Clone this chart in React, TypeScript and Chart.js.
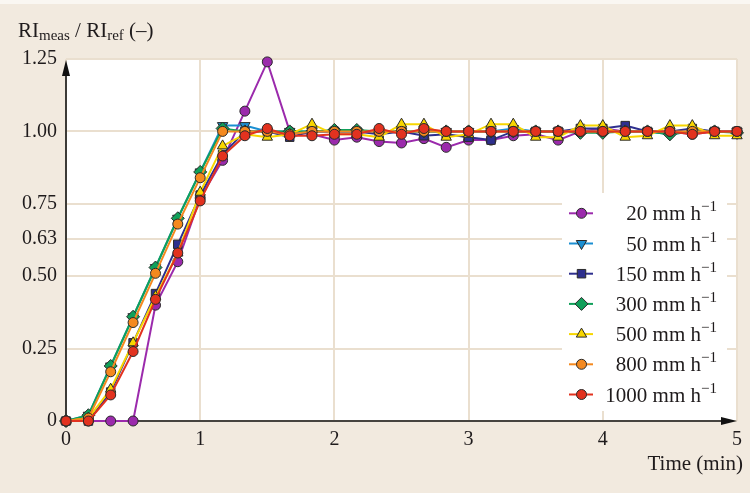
import React, { useEffect, useRef } from "react";
import { Chart, registerables } from "chart.js";

Chart.register(...registerables);

// ---- data ----
const TIME = [0, 0.167, 0.333, 0.5, 0.667, 0.833, 1, 1.167, 1.333, 1.5, 1.667, 1.833, 2, 2.167, 2.333, 2.5, 2.667, 2.833, 3, 3.167, 3.333, 3.5, 3.667, 3.833, 4, 4.167, 4.333, 4.5, 4.667, 4.833, 5];

const R20 = [0, 0, 0, 0, 0.40, 0.55, 0.77, 0.90, 1.07, 1.24, 1.0, 0.99, 0.97, 0.98, 0.965, 0.96, 0.975, 0.945, 0.97, 0.97, 0.985, 0.99, 0.97, 1.0, 1.01, 1.0, 1.0, 1.0, 0.99, 1.0, 1.0];
const R50 = [0, 0.02, 0.19, 0.36, 0.53, 0.70, 0.86, 1.02, 1.02, 1.0, 1.0, 1.0, 1.0, 1.0, 1.0, 1.0, 1.0, 1.0, 1.0, 1.0, 1.01, 1.0, 1.0, 1.0, 1.0, 1.0, 1.0, 0.99, 1.0, 1.0, 1.0];
const R150 = [0, 0, 0.10, 0.27, 0.44, 0.61, 0.78, 0.92, 1.0, 1.0, 0.98, 1.0, 1.0, 1.0, 0.99, 1.0, 0.985, 0.99, 0.98, 0.97, 1.0, 1.0, 1.0, 1.01, 1.01, 1.02, 1.0, 1.0, 1.01, 1.0, 1.0];
const R300 = [0, 0.02, 0.19, 0.36, 0.53, 0.70, 0.86, 1.01, 1.0, 1.0, 1.0, 1.0, 1.005, 1.005, 1.0, 1.0, 1.0, 1.0, 1.0, 1.0, 1.0, 1.0, 1.0, 0.995, 0.995, 1.0, 1.0, 0.99, 1.0, 1.0, 0.995];
const R500 = [0, 0.01, 0.11, 0.27, 0.43, 0.58, 0.79, 0.95, 0.99, 0.98, 0.99, 1.025, 0.99, 0.99, 0.98, 1.025, 1.025, 0.98, 0.99, 1.025, 1.025, 0.98, 0.98, 1.02, 1.02, 0.98, 0.985, 1.02, 1.02, 0.985, 0.985];
const R800 = [0, 0.01, 0.17, 0.34, 0.51, 0.68, 0.84, 1.0, 1.0, 1.0, 0.99, 1.0, 1.0, 1.0, 1.0, 1.0, 1.0, 1.0, 1.0, 1.0, 1.0, 1.0, 1.0, 1.0, 1.0, 1.0, 1.0, 1.0, 1.0, 1.0, 1.0];
const R1000 = [0, 0, 0.09, 0.24, 0.42, 0.58, 0.76, 0.915, 0.985, 1.01, 0.985, 0.985, 0.99, 0.99, 1.01, 0.99, 1.01, 1.0, 1.0, 1.0, 1.0, 1.0, 1.0, 1.0, 1.0, 1.0, 1.0, 1.0, 0.99, 1.0, 1.0];

const SERIES_LABELS = ["20 mm h", "50 mm h", "150 mm h", "300 mm h", "500 mm h", "800 mm h", "1000 mm h"];
const Y_TICKS = [0, 0.25, 0.5, 0.63, 0.75, 1.0, 1.25];
const X_TICKS = [0, 1, 2, 3, 4, 5];

const SERIES_VALUES = [R20, R50, R150, R300, R500, R800, R1000];
const COLORS = ["#9b2aac", "#1b8fd2", "#2e2f8e", "#10a05a", "#f7d600", "#f4891f", "#e2321f"];
const STYLES = ["circle", "triangle", "rect", "rectRot", "triangle", "circle", "circle"];
const ROTS = [0, 180, 0, 0, 0, 0, 0];
const RADII = [5, 6, 6, 6.5, 6, 5, 5];

const FONT = "'Liberation Serif', 'Times New Roman', serif";
const TEXT = "#1f1b1c";
const BG = "#f2eadf";
const GRID = "#eadfcf";

function drawMarker(ctx: CanvasRenderingContext2D, style: string, rot: number, x: number, y: number, r: number, fill: string) {
  ctx.save();
  ctx.translate(x, y);
  ctx.rotate((rot * Math.PI) / 180);
  ctx.beginPath();
  if (style === "circle") {
    ctx.arc(0, 0, r, 0, Math.PI * 2);
  } else if (style === "rect") {
    const s = r * Math.SQRT1_2;
    ctx.rect(-s, -s, 2 * s, 2 * s);
  } else if (style === "rectRot") {
    ctx.moveTo(0, -r);
    ctx.lineTo(r, 0);
    ctx.lineTo(0, r);
    ctx.lineTo(-r, 0);
    ctx.closePath();
  } else {
    ctx.moveTo(0, -r);
    ctx.lineTo(r * 0.866, r * 0.5);
    ctx.lineTo(-r * 0.866, r * 0.5);
    ctx.closePath();
  }
  ctx.fillStyle = fill;
  ctx.fill();
  ctx.lineWidth = 1;
  ctx.strokeStyle = "#2a2a2a";
  ctx.stroke();
  ctx.restore();
}

const decorPlugin = {
  id: "decor",
  beforeDraw(chart: any) {
    const { ctx, chartArea: a, width, height } = chart;
    ctx.save();
    ctx.fillStyle = BG;
    ctx.fillRect(0, 0, width, height);
    ctx.fillStyle = "#faf7f2";
    ctx.fillRect(0, 0, width, 4);
    ctx.fillStyle = "#ffffff";
    ctx.fillRect(a.left, a.top, a.right - a.left, a.bottom - a.top);
    ctx.restore();
  },
  beforeDatasetsDraw(chart: any) {
    const { ctx, chartArea: a } = chart;
    ctx.save();
    ctx.strokeStyle = "#111";
    ctx.fillStyle = "#111";
    ctx.lineWidth = 1.6;
    // y axis
    ctx.beginPath();
    ctx.moveTo(a.left, a.bottom);
    ctx.lineTo(a.left, a.top + 10);
    ctx.stroke();
    ctx.beginPath();
    ctx.moveTo(a.left, a.top + 1);
    ctx.lineTo(a.left - 4, a.top + 17);
    ctx.lineTo(a.left + 4, a.top + 17);
    ctx.closePath();
    ctx.fill();
    // x axis
    ctx.beginPath();
    ctx.moveTo(a.left, a.bottom);
    ctx.lineTo(a.right - 10, a.bottom);
    ctx.stroke();
    ctx.beginPath();
    ctx.moveTo(a.right, a.bottom);
    ctx.lineTo(a.right - 16, a.bottom - 4);
    ctx.lineTo(a.right - 16, a.bottom + 4);
    ctx.closePath();
    ctx.fill();
    ctx.restore();
  },
  afterDraw(chart: any) {
    const { ctx } = chart;
    ctx.save();
    // legend box
    const bx = 562, by = 193, bw = 165, bh = 218;
    ctx.fillStyle = "#ffffff";
    ctx.fillRect(bx, by, bw, bh);
    const right = 717;
    SERIES_LABELS.forEach((lab, i) => {
      const y = 213.3 + i * 30.2;
      ctx.strokeStyle = COLORS[i];
      ctx.lineWidth = 2;
      ctx.beginPath();
      ctx.moveTo(569, y);
      ctx.lineTo(593, y);
      ctx.stroke();
      drawMarker(ctx, STYLES[i], ROTS[i], 581.5, y, RADII[i], COLORS[i]);
      ctx.fillStyle = TEXT;
      ctx.font = `15px ${FONT}`;
      const sup = "\u22121";
      const sw = ctx.measureText(sup).width;
      ctx.textAlign = "left";
      ctx.textBaseline = "alphabetic";
      ctx.fillText(sup, right - sw, y - 2);
      ctx.font = `21px ${FONT}`;
      ctx.textAlign = "right";
      ctx.fillText(lab, right - sw, y + 7);
    });
    // y title
    ctx.fillStyle = TEXT;
    ctx.textAlign = "left";
    ctx.textBaseline = "alphabetic";
    let x = 18;
    const parts: [string, number, number][] = [
      ["RI", 21, 37],
      ["meas", 15, 40],
      [" / RI", 21, 37],
      ["ref", 15, 40],
      [" (\u2013)", 21, 37],
    ];
    parts.forEach(([t, s, yb]) => {
      ctx.font = `${s}px ${FONT}`;
      ctx.fillText(t, x, yb);
      x += ctx.measureText(t).width;
    });
    // x title
    ctx.font = `21px ${FONT}`;
    ctx.textAlign = "right";
    ctx.fillText("Time (min)", 743, 470);
    ctx.restore();
  },
};

export default function App() {
  const ref = useRef<HTMLCanvasElement | null>(null);
  useEffect(() => {
    document.body.style.margin = "0";
    const canvas = ref.current!;
    const order = [6, 5, 4, 3, 2, 1, 0];
    const chart = new Chart(canvas, {
      type: "line",
      data: {
        datasets: SERIES_VALUES.map((vals, i) => ({
          label: SERIES_LABELS[i],
          data: vals.map((v, k) => ({ x: TIME[k], y: v })),
          borderColor: COLORS[i],
          backgroundColor: COLORS[i],
          pointBackgroundColor: COLORS[i],
          pointBorderColor: "#2a2a2a",
          pointBorderWidth: 1,
          pointStyle: STYLES[i] as any,
          rotation: ROTS[i],
          pointRadius: RADII[i],
          borderWidth: 2,
          tension: 0,
          clip: false as any,
          order: order[i],
        })),
      },
      plugins: [decorPlugin],
      options: {
        animation: false,
        responsive: false,
        devicePixelRatio: 1,
        layout: { padding: { top: 59, right: 13, left: 0, bottom: 0 } },
        plugins: { legend: { display: false }, tooltip: { enabled: false } },
        scales: {
          x: {
            type: "linear",
            min: 0,
            max: 5,
            afterFit: (s: any) => { s.height = 72; },
            afterBuildTicks: (s: any) => { s.ticks = X_TICKS.map((v) => ({ value: v })); },
            ticks: {
              padding: 7,
              color: TEXT,
              font: { family: FONT, size: 20 },
              callback: (v: any) => String(v),
              maxRotation: 0,
            },
            grid: { color: GRID, lineWidth: 2, drawTicks: false },
            border: { display: false },
          },
          y: {
            type: "linear",
            min: 0,
            max: 1.25,
            afterFit: (s: any) => { s.width = 66; },
            afterBuildTicks: (s: any) => { s.ticks = Y_TICKS.map((v) => ({ value: v })); },
            ticks: {
              padding: 9,
              color: TEXT,
              font: { family: FONT, size: 20 },
              callback: (v: any) => (v === 0 ? "0" : Number(v).toFixed(2)),
            },
            grid: { color: GRID, lineWidth: 2, drawTicks: false },
            border: { display: false },
          },
        },
      },
    });
    return () => chart.destroy();
  }, []);
  return (
    <div style={{ position: "fixed", left: 0, top: 0, width: 750, height: 493 }}>
      <canvas ref={ref} width={750} height={493} style={{ width: 750, height: 493, display: "block" }} />
    </div>
  );
}
